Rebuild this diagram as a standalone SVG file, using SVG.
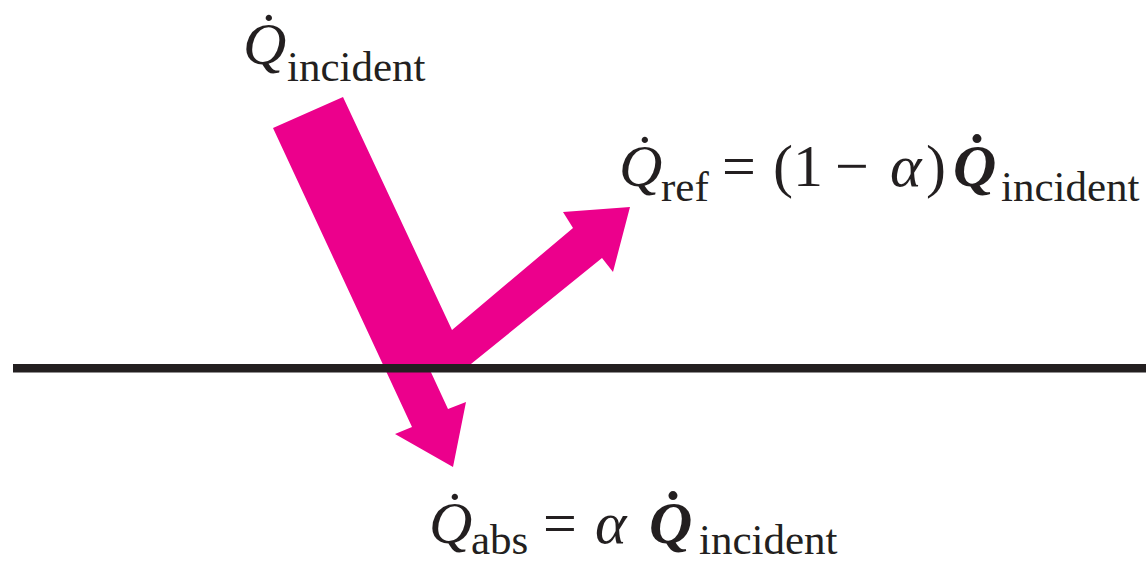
<svg xmlns="http://www.w3.org/2000/svg" width="1146" height="561" viewBox="0 0 1146 561">
<style>
.m{font-family:"Liberation Serif","DejaVu Serif",serif;font-size:60px;fill:#231f20}
.s{font-family:"Liberation Serif","DejaVu Serif",serif;font-size:43px;fill:#231f20}
.i{font-style:italic}
.b{font-weight:bold}
</style>
<rect width="1146" height="561" fill="#ffffff"/>
<g id="beam">
<polygon fill="#ec008c" points="273,128 343,97 452,330 573,228 563,212 630,207 613,272 602,258 466,368 429,368 448,409 466,402 453,467 395,434 412,427"/>
</g>
<g id="surface">
<rect x="13" y="364" width="1133" height="8.5" fill="#231f20"/>
</g>
<g id="label-incident">
<text class="m i" x="243" y="64">Q̇</text>
<text class="s" x="287" y="81">incident</text>
</g>
<g id="label-ref">
<text class="m i" x="619" y="186">Q̇</text>
<text class="s" x="661" y="201">ref</text>
<text class="m" x="722" y="186">=</text>
<text class="m" x="773" y="186">(1</text>
<text class="m" x="835" y="186">−</text>
<text class="m i" x="890" y="186">α</text>
<text class="m" x="926" y="186">)</text>
<text class="m i b" x="953" y="186">Q̇</text>
<text class="s" x="1001" y="201">incident</text>
</g>
<g id="label-abs">
<text class="m i" x="429" y="543">Q̇</text>
<text class="s" x="471" y="554">abs</text>
<text class="m" x="543" y="543">=</text>
<text class="m i" x="595" y="543">α</text>
<text class="m i b" x="649" y="543">Q̇</text>
<text class="s" x="699" y="554">incident</text>
</g>
</svg>
